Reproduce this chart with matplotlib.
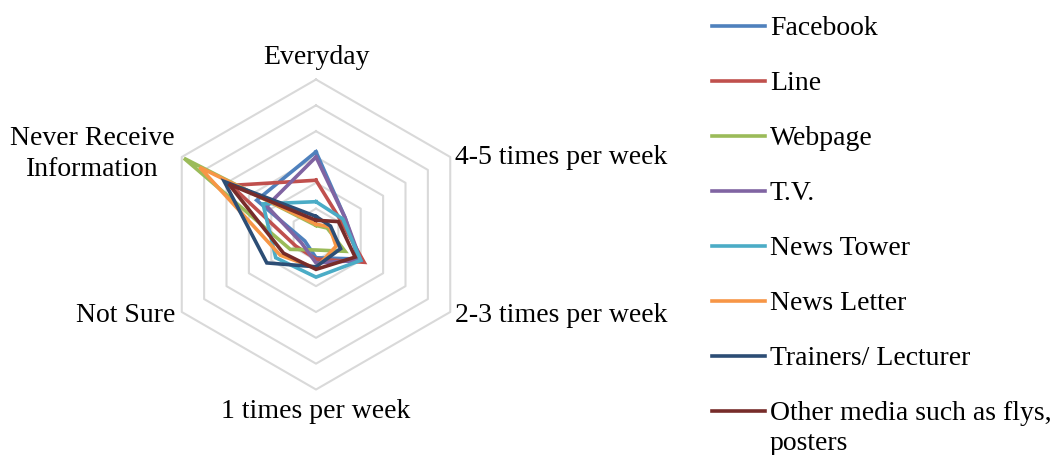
import numpy as np
import matplotlib
matplotlib.use("Agg")
import matplotlib.pyplot as plt
from matplotlib.lines import Line2D

plt.rcParams['font.family'] = ['Liberation Serif', 'DejaVu Serif']

# frequency categories, clockwise from the top
categories = ["Everyday", "4-5 times per week", "2-3 times per week",
              "1 times per week", "Not Sure", "Never Receive\nInformation"]

# percent of respondents per channel, same order as categories
facebook = [32, 13, 19, 9, 5, 26.5]
line_app = [21, 11, 21.5, 9.5, 9, 38]
webpage = [3.5, 5, 13, 6, 11.5, 59]
tv = [30, 13, 20, 11, 6.5, 22]
news_tower = [12.7, 12, 20, 16.5, 18, 23.7]
news_letter = [4, 6, 9, 13, 16, 52]
trainers = [7, 6.5, 11, 12.5, 22, 41]
other_media = [5.5, 10, 17.5, 13.5, 14.5, 39]

series_names = ["Facebook", "Line", "Webpage", "T.V.", "News Tower",
                "News Letter", "Trainers/ Lecturer",
                "Other media such as flys,\nposters"]
series_values = [facebook, line_app, webpage, tv, news_tower,
                 news_letter, trainers, other_media]
colors = ["#4F81BD", "#C0504D", "#9BBB59", "#8064A2", "#4BACC6",
          "#F79646", "#2C4D75", "#772C2A"]

grid_levels = [10, 20, 30, 40, 50, 60]

fig = plt.figure(figsize=(10.56, 4.55), dpi=100)
W, H = 1056, 455
cx, cy, half = 316, 234.5, 170
ax = fig.add_axes([(cx - half) / W, (H - cy - half) / H, 2 * half / W, 2 * half / H])
lim = half / 155 * 60
ax.set_xlim(-lim, lim)
ax.set_ylim(-lim, lim)
ax.axis("off")

# clockwise, starting at 12 o'clock
angles = np.pi / 2 - np.arange(len(categories)) * 2 * np.pi / len(categories)


def to_xy(vals):
    vals = np.asarray(vals, dtype=float)
    x = vals * np.cos(angles)
    y = vals * np.sin(angles)
    return np.append(x, x[0]), np.append(y, y[0])


for lvl in grid_levels:
    gx, gy = to_xy([lvl] * len(categories))
    ax.plot(gx, gy, color="#D9D9D9", lw=1.5, zorder=1)

for vals, c in zip(series_values, colors):
    sx, sy = to_xy(vals)
    ax.plot(sx, sy, color=c, lw=2.6, solid_joinstyle="miter", zorder=2)

fs = 20
ax.text(0, 68.7, categories[0], ha="center", va="center", fontsize=fs)
ax.text(53.8, 30.0, categories[1], ha="left", va="center", fontsize=fs)
ax.text(53.8, -31.5, categories[2], ha="left", va="center", fontsize=fs)
ax.text(0, -68.7, categories[3], ha="center", va="center", fontsize=fs)
ax.text(-54.6, -31.5, categories[4], ha="right", va="center", fontsize=fs)
ax.text(-86.5, 31.2, categories[5], ha="center", va="center",
        multialignment="center", fontsize=fs, linespacing=1.35)

# legend column on the right, wrapped labels one text per line
for i, (name, c) in enumerate(zip(series_names, colors)):
    ly = 25.5 + i * 55.07
    fig.add_artist(Line2D([712 / W, 765 / W], [1 - ly / H, 1 - ly / H],
                          color=c, lw=2.6))
    for k, part in enumerate(name.split("\n")):
        base = ly + 9.5 + 30 * k
        fig.text(770 / W, 1 - base / H, part, ha="left", va="baseline",
                 fontsize=fs)

fig.savefig("out.png", dpi=100)
